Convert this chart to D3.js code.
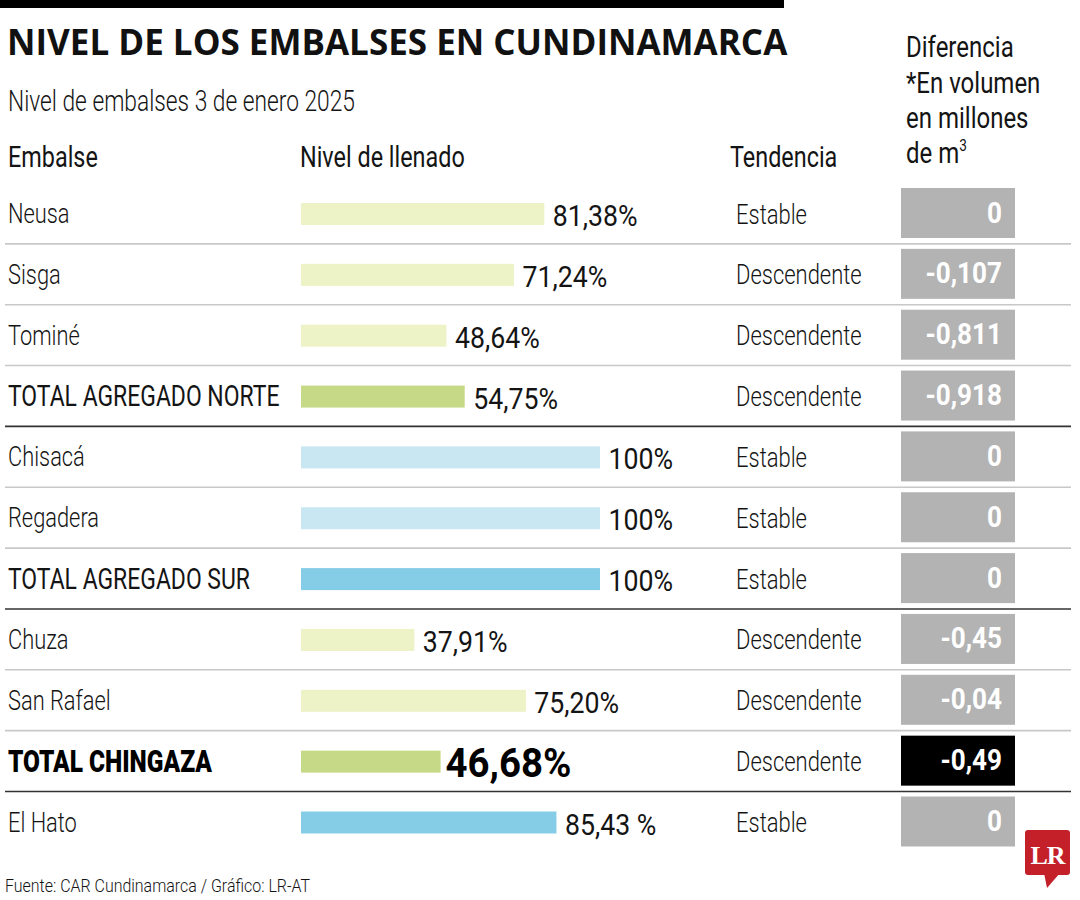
<!DOCTYPE html>
<html><head><meta charset="utf-8">
<script src="https://cdn.jsdelivr.net/npm/d3@7/dist/d3.min.js"></script>
<style>
html,body{margin:0;padding:0;background:#fff;}
svg{display:block;}
</style></head>
<body>
<script>
// ---------- DATA ----------
const title = "NIVEL DE LOS EMBALSES EN CUNDINAMARCA";
const subtitle = "Nivel de embalses 3 de enero 2025";
const colHeaders = ["Embalse", "Nivel de llenado", "Tendencia"];
const diffHeader = ["Diferencia", "*En volumen", "en millones", "de m"];
const source = "Fuente: CAR Cundinamarca / Gráfico: LR-AT";

const names = ["Neusa", "Sisga", "Tominé", "TOTAL AGREGADO NORTE", "Chisacá", "Regadera",
  "TOTAL AGREGADO SUR", "Chuza", "San Rafael", "TOTAL CHINGAZA", "El Hato"];
const basins = ["Norte", "Norte", "Norte", "Norte", "Sur", "Sur", "Sur",
  "Chingaza", "Chingaza", "Chingaza", "El Hato"];
const rowTypes = ["embalse", "embalse", "embalse", "total", "embalse", "embalse", "total",
  "embalse", "embalse", "destacado", "embalse"];
const levels = [81.38, 71.24, 48.64, 54.75, 100, 100, 100, 37.91, 75.20, 46.68, 85.43];
const levelLabels = ["81,38%", "71,24%", "48,64%", "54,75%", "100%", "100%", "100%",
  "37,91%", "75,20%", "46,68%", "85,43 %"];
const trends = ["Estable", "Descendente", "Descendente", "Descendente", "Estable", "Estable",
  "Estable", "Descendente", "Descendente", "Descendente", "Estable"];
const diffs = [0, -0.107, -0.811, -0.918, 0, 0, 0, -0.45, -0.04, -0.49, 0];
const diffLabels = ["0", "-0,107", "-0,811", "-0,918", "0", "0", "0", "-0,45", "-0,04", "-0,49", "0"];

// ---------- LAYOUT ----------
const W = 1080, H = 900;
const svg = d3.select("body").append("svg").attr("width", W).attr("height", H);

const rows = names.map((n, i) => ({
  name: n, basin: basins[i], type: rowTypes[i], level: levels[i], label: levelLabels[i],
  trend: trends[i], diff: diffs[i], diffLabel: diffLabels[i], i
}));

const y = d3.scaleBand().domain(d3.range(names.length)).range([183, 183 + 60.85 * names.length]).padding(0);
const x = d3.scaleLinear().domain([0, 100]).range([301, 600]);

const lightColor = d3.scaleOrdinal().domain(["Norte", "Sur", "Chingaza", "El Hato"])
  .range(["#edf2c7", "#c9e7f2", "#edf2c7", "#85cde6"]);
const darkColor = d3.scaleOrdinal().domain(["Norte", "Sur", "Chingaza", "El Hato"])
  .range(["#c6d987", "#85cde6", "#c6d987", "#85cde6"]);

const INK = "#141414";
function ctext(g, tx, ty, str, o) {
  return g.append("text")
    .attr("transform", `translate(${tx},${ty}) scale(${o.k || 1},1)`)
    .attr("font-family", o.family || "Roboto, 'Open Sans', sans-serif")
    .attr("font-size", o.size)
    .attr("font-weight", o.weight || 400)
    .attr("fill", o.fill || INK)
    .attr("text-anchor", o.anchor || "start")
    .text(str);
}

// top black bar
svg.append("rect").attr("x", 0).attr("y", 0).attr("width", 784).attr("height", 8).attr("fill", "#000");

// title
ctext(svg, 7, 55, title, { size: 35, weight: 700, k: 1.0, family: "'Open Sans', Roboto, sans-serif", fill: "#111" });
// subtitle
ctext(svg, 8, 111, subtitle, { size: 29, weight: 300, k: 0.785 });

// column headers
const hdrX = [8, 300, 730];
colHeaders.forEach((h, i) => ctext(svg, hdrX[i], 167, h, { size: 30, weight: 400, k: 0.78 }));

// diferencia header
const dBase = [57, 93, 128, 163];
diffHeader.forEach((h, i) => {
  const t = ctext(svg, 906, dBase[i], h, { size: 30, weight: 400, k: 0.8 });
  if (i === 3) t.append("tspan").attr("font-size", 17).attr("dy", -12).text("3");
});

// separators
const sep = svg.append("g");
rows.slice(0, -1).forEach(r => {
  const yy = y(r.i) + y.bandwidth();
  const dark = r.type !== "embalse";
  sep.append("line").attr("x1", 5).attr("x2", 1071).attr("y1", yy).attr("y2", yy)
    .attr("stroke", dark ? "#333" : "#c8c8c8").attr("stroke-width", 1.6);
});

// rows
const g = svg.append("g");
rows.forEach(r => {
  const top = y(r.i);
  if (r.type === "embalse") ctext(g, 8, top + 40, r.name, { size: 28, weight: 300, k: 0.78 });
  else if (r.type === "total") ctext(g, 8, top + 40.5, r.name, { size: 30, weight: 400, k: 0.765 });
  else ctext(g, 8, top + 41, r.name, { size: 32, weight: 900, k: 0.765, fill: "#000" });

  g.append("rect").attr("x", x(0)).attr("y", top + 20).attr("height", 22)
    .attr("width", x(r.level) - x(0))
    .attr("fill", r.type === "embalse" ? lightColor(r.basin) : darkColor(r.basin));

  if (r.type === "destacado")
    ctext(g, x(r.level) + 5, top + 46.5, r.label, { size: 40, weight: 700, k: 0.96, fill: "#000" });
  else
    ctext(g, x(r.level) + 8.5, top + 43, r.label, { size: 30, weight: 400, k: 0.89 });

  ctext(g, 736, top + 40.5, r.trend, { size: 28, weight: 300, k: 0.785 });

  g.append("rect").attr("x", 901).attr("y", top + 5).attr("width", 114).attr("height", 50)
    .attr("fill", r.type === "destacado" ? "#000" : "#b3b3b3");
  ctext(g, 1002, top + 39.5, r.diffLabel, { size: 29, weight: 700, k: 0.9, fill: "#fff", anchor: "end" });
});

// footer
ctext(svg, 5, 892, source, { size: 19, weight: 300, k: 0.84 });

// logo
const logo = svg.append("g");
logo.append("rect").attr("x", 1025).attr("y", 830).attr("width", 45).attr("height", 45).attr("rx", 3).attr("fill", "#c4202a");
logo.append("path").attr("d", "M1044,873 L1060,873 L1047,888 Z").attr("fill", "#c4202a");
logo.append("text").attr("x", 1047.5).attr("y", 864).attr("text-anchor", "middle")
  .attr("font-family", "'Liberation Serif', 'DejaVu Serif', serif").attr("font-weight", 700)
  .attr("font-size", 26).attr("fill", "#fff").attr("letter-spacing", -1).text("LR");
</script>
</body></html>
